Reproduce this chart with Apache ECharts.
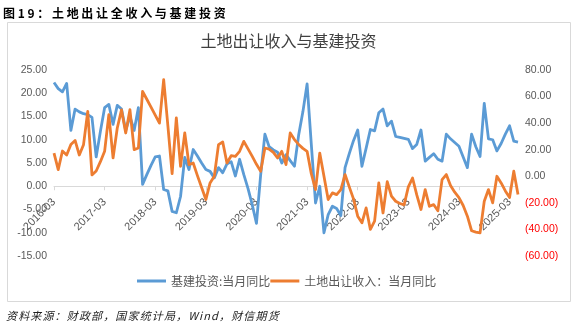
<!DOCTYPE html>
<html><head><meta charset="utf-8">
<script src="https://cdn.jsdelivr.net/npm/echarts@6/dist/echarts.min.js"></script>
<style>
html,body{margin:0;padding:0;background:#fff;width:577px;height:324px;overflow:hidden;}
#chart{position:absolute;left:0;top:0;width:577px;height:324px;}
#hdr{position:absolute;left:3px;top:4px;font:bold 12px "Noto Sans CJK SC";letter-spacing:2.7px;color:#000;}
#ftr{position:absolute;left:6px;top:307px;font:italic 11px "Noto Sans CJK SC";letter-spacing:1.15px;color:#222;}
</style></head>
<body>
<div id="chart"></div>
<div id="hdr">图19：土地出让全收入与基建投资</div>
<div id="ftr">资料来源：财政部，国家统计局，Wind，财信期货</div>
<script>
// categories: monthly, 2016-03 .. 2025-05
const categories = [];
for (let y = 2016; y <= 2025; y++) {
  for (let m = 1; m <= 12; m++) {
    if (y === 2016 && m < 3) continue;
    if (y === 2025 && m > 5) break;
    categories.push(y + '-' + (m < 10 ? '0' + m : '' + m));
  }
}
const seriesNames = ['基建投资:当月同比', '土地出让收入：当月同比'];
const infraYoY = [
  22.3,21.0,20.3,22.1,12.0,16.6,16.0,15.6,15.4,14.8,6.3,11.8,
  16.9,17.6,13.3,17.4,16.6,12.0,15.0,12.0,16.9,0.4,2.5,4.5,
  6.3,6.5,-0.7,-1.0,-5.4,-5.7,-2.2,6.2,3.6,7.9,6.5,5.0,
  3.6,3.2,1.8,4.0,2.9,4.8,5.3,2.2,5.8,2.5,-0.5,-4.0,
  -8.0,2.5,11.2,8.5,7.8,7.3,5.0,6.8,5.5,4.3,11.0,16.0,
  22.0,9.0,-3.6,0.0,-10.0,-6.1,-4.3,-4.8,-6.3,4.0,7.0,9.8,
  12.1,4.3,8.2,12.2,11.9,15.8,16.6,13.0,14.0,10.7,10.5,10.3,
  10.1,8.1,9.0,12.1,5.4,6.2,7.0,5.8,5.4,11.2,10.2,9.4,
  8.6,6.3,4.0,11.2,8.5,6.4,17.8,10.2,10.0,7.6,9.2,11.2,
  13.0,9.7,9.5
];
const landYoY = [
  17.5,5,19,16,24,27,16,23.8,48.9,1,4,11,
  18.8,46.4,13.8,36.3,50,32.6,50.1,20,21.3,63.9,58,52,
  46,40,72.7,38,2,43.9,7.5,32.6,8.8,10,0.5,-8.5,
  -17.5,-5,0,23.8,25.8,10,15.5,15,18.8,26.3,20.6,15,
  9,3.8,21.3,20.5,18,13.8,18.8,8.8,32.6,27.6,24,21,
  18.8,2,-10,17.5,0,-17.5,-12.5,-13.8,-10,1.3,-8,-17,
  -30,-35,-23.8,-40,-33.8,-5,-27.6,-4,-15,-18.8,-20.5,-21.5,
  -8,-1.3,-14,-25,-10,-22.6,-21.3,-26,-2.5,1.3,-7,-12,
  -16,-22,-30,-41,-42,-42.6,-18.8,-10,-20,0,-5,-11,
  -16,3.8,-13.8
];
const leftMin = -15, leftMax = 25, leftStep = 5;
const rightMin = -60, rightMax = 80, rightStep = 20;

const gridTop = 70, gridBottom = 68, H = 324;
const plotH = H - gridTop - gridBottom;
// move the category axis (line, ticks, labels) up to the left axis' zero
const zeroOffset = -plotH * (0 - leftMin) / (leftMax - leftMin);

const chart = echarts.init(document.getElementById('chart'), null, {renderer: 'canvas'});
const axisFont = 'Liberation Sans';
chart.setOption({
  backgroundColor: '#fff',
  animation: false,
  title: {
    text: '土地出让收入与基建投资',
    left: 'center', top: 28,
    textStyle: {fontFamily: 'Noto Sans CJK SC', fontSize: 16, fontWeight: 'normal', color: '#404040'}
  },
  graphic: [{
    type: 'rect', shape: {x: 7.5, y: 22.5, width: 563, height: 279},
    style: {fill: 'none', stroke: '#D9D9D9', lineWidth: 1}, silent: true
  }],
  legend: {
    left: 132, top: 270, itemGap: 0, itemWidth: 29, itemHeight: 3, icon: 'rect',
    textStyle: {fontFamily: 'Noto Sans CJK SC', fontSize: 12, color: '#595959'},
    data: seriesNames
  },
  grid: {left: 54, right: 59, top: gridTop, bottom: gridBottom, containLabel: false},
  xAxis: {
    type: 'category', data: categories, boundaryGap: false,
    offset: zeroOffset,
    axisLine: {onZero: false, lineStyle: {color: '#D9D9D9', width: 1}},
    axisTick: {show: true, interval: 11, length: 4, lineStyle: {color: '#D9D9D9'}},
    axisLabel: {interval: 11, rotate: 45, margin: 14, color: '#595959', fontFamily: axisFont, fontSize: 11},
    splitLine: {show: false}
  },
  yAxis: [{
    type: 'value', min: leftMin, max: leftMax, interval: leftStep, position: 'left',
    axisLine: {show: false}, axisTick: {show: false}, splitLine: {show: false},
    axisLabel: {margin: 7, color: '#595959', fontFamily: axisFont, fontSize: 10.5,
      formatter: v => v.toFixed(2)}
  }, {
    type: 'value', min: rightMin, max: rightMax, interval: rightStep, position: 'right',
    axisLine: {show: false}, axisTick: {show: false}, splitLine: {show: false},
    axisLabel: {margin: 7, color: '#595959', fontFamily: axisFont, fontSize: 10.5,
      formatter: v => v < 0 ? '{neg|(' + Math.abs(v).toFixed(2) + ')}' : v.toFixed(2),
      rich: {neg: {color: '#FF0000', fontFamily: axisFont, fontSize: 10.5}}}
  }],
  series: [{
    name: seriesNames[0], type: 'line', yAxisIndex: 0, data: infraYoY,
    symbol: 'none', lineStyle: {color: '#5B9BD5', width: 2.8, join: 'round'}, itemStyle: {color: '#5B9BD5'}
  }, {
    name: seriesNames[1], type: 'line', yAxisIndex: 1, data: landYoY,
    symbol: 'none', lineStyle: {color: '#ED7D31', width: 2.8, join: 'round'}, itemStyle: {color: '#ED7D31'}
  }]
});
</script>
</body></html>
